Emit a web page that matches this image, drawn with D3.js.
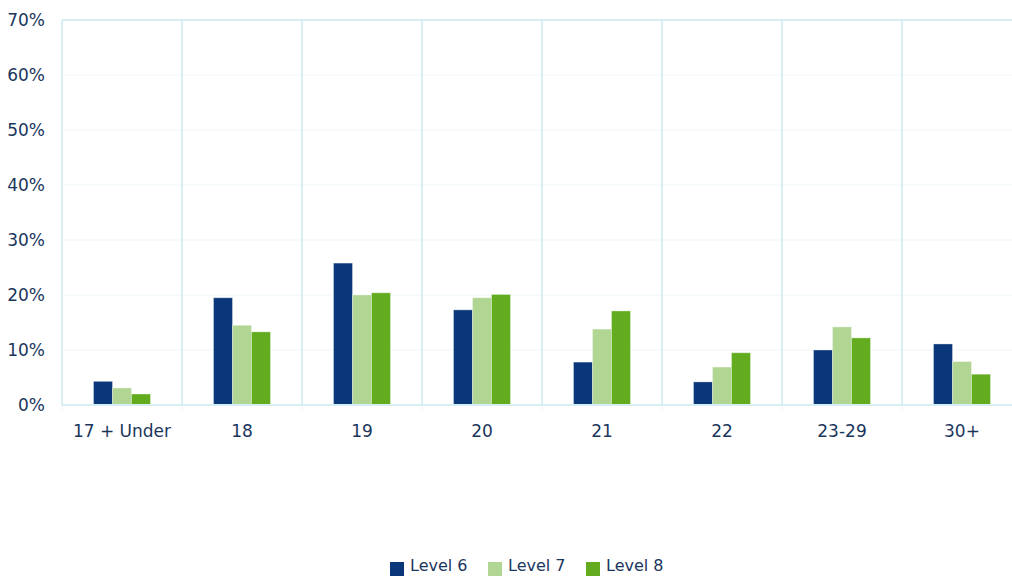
<!DOCTYPE html>
<html>
<head>
<meta charset="utf-8">
<script src="https://cdn.jsdelivr.net/npm/d3@7"></script>
<style>
body { margin: 0; background: #fff; }
text { font-family: "DejaVu Sans", Verdana, sans-serif; fill: #1b365d; }
</style>
</head>
<body>
<div id="chart"></div>
<script>
var width = 1012;
var height = 579;

var categories = ["17 + Under", "18", "19", "20", "21", "22", "23-29", "30+"];
var seriesNames = ["Level 6", "Level 7", "Level 8"];
var level6 = [4.3, 19.5, 25.8, 17.3, 7.8, 4.2, 10.0, 11.1];
var level7 = [3.1, 14.5, 20.0, 19.5, 13.8, 6.9, 14.2, 7.9];
var level8 = [2.0, 13.3, 20.4, 20.1, 17.1, 9.5, 12.2, 5.6];
var yTicks = [0, 10, 20, 30, 40, 50, 60, 70];

var colors = ["#0a367a", "#b1d592", "#63ab1f"];
var series = [level6, level7, level8];

var svg = d3.select("#chart")
    .append("svg")
    .attr("width", width)
    .attr("height", height);

// scales
var xScale = d3.scaleBand().domain(categories).range([62, 1022]);
var yScale = d3.scaleLinear().domain([0, 70]).range([405, 20]);
var barW = 19;

// horizontal grid
svg.selectAll(".hgrid")
    .data(yTicks.slice(1))
    .enter()
    .append("line")
    .attr("x1", 62).attr("x2", width)
    .attr("y1", function(d) { return yScale(d); })
    .attr("y2", function(d) { return yScale(d); })
    .attr("stroke", function(d) { return d == 70 ? "#d8eef5" : "#eef6f8"; })
    .attr("stroke-width", function(d) { return d == 70 ? 2 : 1; });

// vertical category separators
var bounds = categories.map(function(c) { return xScale(c); });
svg.selectAll(".vgrid")
    .data(bounds)
    .enter()
    .append("line")
    .attr("x1", function(d) { return d; })
    .attr("x2", function(d) { return d; })
    .attr("y1", 20).attr("y2", 405)
    .attr("stroke", "#d8eef5")
    .attr("stroke-width", 2);

// small ticks under axis
svg.selectAll(".tick2")
    .data(bounds)
    .enter()
    .append("line")
    .attr("x1", function(d) { return d; })
    .attr("x2", function(d) { return d; })
    .attr("y1", 405).attr("y2", 411)
    .attr("stroke", "#eef6f8")
    .attr("stroke-width", 1);

// bars
series.forEach(function(vals, s) {
    svg.selectAll(".bar" + s)
        .data(vals)
        .enter()
        .append("rect")
        .attr("x", function(d, i) {
            return xScale(categories[i]) + xScale.bandwidth() / 2 - 1.5 * barW + s * barW; })
        .attr("y", function(d) { return yScale(d); })
        .attr("width", barW)
        .attr("height", function(d) { return yScale(0) - yScale(d); })
        .attr("fill", colors[s])
        .attr("stroke", "rgba(255,255,255,0.35)")
        .attr("stroke-width", 1);
});

// x axis baseline
svg.append("line")
    .attr("x1", 62).attr("x2", width)
    .attr("y1", 405).attr("y2", 405)
    .attr("stroke", "#d8eef5")
    .attr("stroke-width", 2);

// y labels
svg.selectAll(".ylab")
    .data(yTicks)
    .enter()
    .append("text")
    .attr("x", 45)
    .attr("y", function(d) { return yScale(d); })
    .attr("dy", "0.35em")
    .attr("text-anchor", "end")
    .style("font-size", "17px")
    .text(function(d) { return d + "%"; });

// x labels
svg.selectAll(".xlab")
    .data(categories)
    .enter()
    .append("text")
    .attr("x", function(d) { return xScale(d) + xScale.bandwidth() / 2; })
    .attr("y", 431)
    .attr("dy", "0.35em")
    .attr("text-anchor", "middle")
    .style("font-size", "17px")
    .text(function(d) { return d; });

// legend
var legendX = [390, 488, 586];
var legend = svg.selectAll(".legend")
    .data(seriesNames)
    .enter()
    .append("g")
    .attr("transform", function(d, i) { return "translate(" + legendX[i] + ",562)"; });

legend.append("rect")
    .attr("width", 14).attr("height", 14)
    .attr("fill", function(d, i) { return colors[i]; });

legend.append("text")
    .attr("x", 20)
    .attr("y", 3)
    .attr("dy", "0.35em")
    .style("font-size", "16px")
    .text(function(d) { return d; });
</script>
</body>
</html>
